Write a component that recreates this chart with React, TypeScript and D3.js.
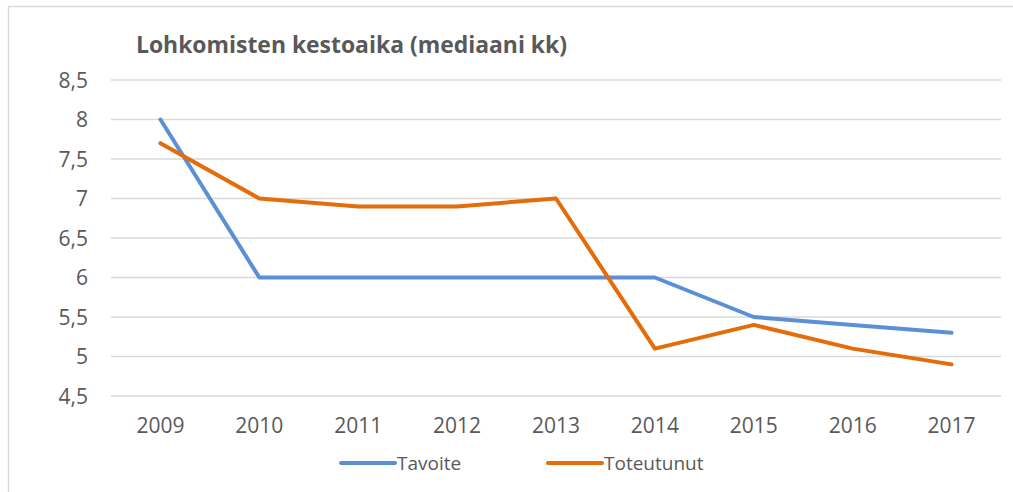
import React from "react";
import * as d3 from "d3";

const years = ["2009", "2010", "2011", "2012", "2013", "2014", "2015", "2016", "2017"];
const tavoite = [8, 6, 6, 6, 6, 6, 5.5, 5.4, 5.3];
const toteutunut = [7.7, 7.0, 6.9, 6.9, 7.0, 5.1, 5.4, 5.1, 4.9];
const yTicks = [4.5, 5, 5.5, 6, 6.5, 7, 7.5, 8, 8.5];
const seriesNames = ["Tavoite", "Toteutunut"];
const colors = ["#5B8FD6", "#E46C0A"];

const W = 1013;
const H = 492;
const FONT = "'Open Sans', sans-serif";
const TEXT = "#595959";

export default function App() {
  const x = d3.scaleBand<string>().domain(years).range([111, 1001]);
  const y = d3.scaleLinear().domain([4.5, 8.5]).range([396, 80]);
  const line = d3
    .line<number>()
    .x((_, i) => (x(years[i]) as number) + x.bandwidth() / 2)
    .y((d) => y(d));
  const series = [tavoite, toteutunut];
  const fmt = (v: number) => String(v).replace(".", ",");
  const legendX = [341, 548];

  return (
    <svg
      width={W}
      height={H}
      style={{ position: "absolute", left: 0, top: 0, background: "#fff" }}
    >
      <rect x={0} y={0} width={W} height={H} fill="#fff" />
      <line x1={8.5} x2={8.5} y1={6} y2={H} stroke="#D9D9D9" strokeWidth={1.5} />
      <line x1={8} x2={W} y1={6.5} y2={6.5} stroke="#D9D9D9" strokeWidth={1.5} />
      <text
        x={136}
        y={53}
        fontFamily={FONT}
        fontWeight="bold"
        fontSize={23}
        fill={TEXT}
        textLength={431}
        lengthAdjust="spacingAndGlyphs"
      >
        Lohkomisten kestoaika (mediaani kk)
      </text>
      {yTicks.map((t) => (
        <g key={t}>
          <line
            x1={111}
            x2={1001}
            y1={y(t)}
            y2={y(t)}
            stroke="#D9D9D9"
            strokeWidth={1.5}
          />
          <text
            x={88}
            y={y(t)}
            dy="0.36em"
            textAnchor="end"
            fontFamily={FONT}
            fontSize={21}
            fill={TEXT}
          >
            {fmt(t)}
          </text>
        </g>
      ))}
      {years.map((yr) => (
        <text
          key={yr}
          x={(x(yr) as number) + x.bandwidth() / 2}
          y={425}
          dy="0.36em"
          textAnchor="middle"
          fontFamily={FONT}
          fontSize={21}
          fill={TEXT}
        >
          {yr}
        </text>
      ))}
      {series.map((s, i) => (
        <path
          key={i}
          d={line(s) || ""}
          fill="none"
          stroke={colors[i]}
          strokeWidth={4}
          strokeLinejoin="round"
          strokeLinecap="round"
        />
      ))}
      {seriesNames.map((n, i) => (
        <g key={n}>
          <line
            x1={legendX[i]}
            x2={legendX[i] + 54}
            y1={463}
            y2={463}
            stroke={colors[i]}
            strokeWidth={4}
            strokeLinecap="round"
          />
          <text
            x={legendX[i] + 56}
            y={463}
            dy="0.36em"
            fontFamily={FONT}
            fontSize={19}
            fill={TEXT}
          >
            {n}
          </text>
        </g>
      ))}
    </svg>
  );
}
